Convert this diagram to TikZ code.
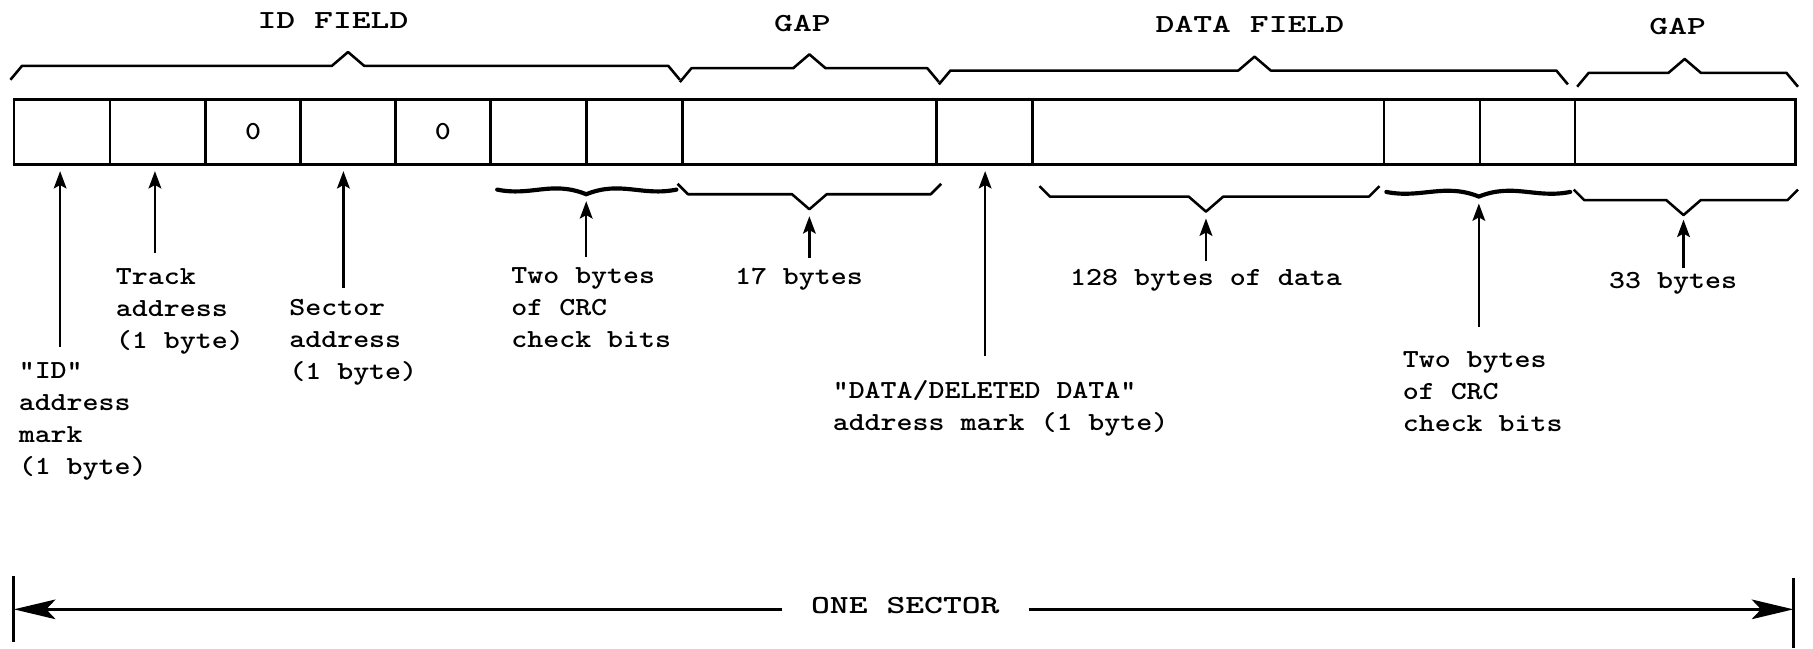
\documentclass[tikz,border=0pt]{standalone}
\usepackage{fontspec}
\usetikzlibrary{arrows.meta}
\tikzset{
  cellline/.style={line width=2.3pt},
  brace/.style={line width=2.2pt, line join=round},
  curly/.style={line width=3.6pt, line cap=round},
  upar/.style={line width=2.2pt, -{Stealth[length=15pt,width=11pt,inset=3pt]}},
  bigar/.style={line width=2.2pt, -{Stealth[length=36pt,width=17pt,inset=8pt]}},
  lbl/.style={font=\ttfamily\bfseries\fontsize{22.5}{27.6}\selectfont, inner sep=0pt, align=left, xscale=1.17},
  head/.style={font=\ttfamily\bfseries\fontsize{22.5}{28}\selectfont, inner sep=0pt, xscale=1.38},
}
% brace above the box: left, right, middle, line y
\newcommand{\topbrace}[4]{\draw[brace] (#1,#4+12) -- (#1+10,#4) -- (#3-14,#4) -- (#3,#4-12) -- (#3+14,#4) -- (#2-10,#4) -- (#2,#4+12);}
% brace below the box
\newcommand{\lowbrace}[4]{\draw[brace] (#1,#4-9) -- (#1+9,#4) -- (#3-15,#4) -- (#3,#4+13) -- (#3+15,#4) -- (#2-9,#4) -- (#2,#4-9);}
% curly brace below the CRC bytes
\newcommand{\crcbrace}[4]{\draw[curly] (#1,#4) .. controls (#1+30,#4+6) and (#3-30,#4-8) .. (#3,#4+4) .. controls (#3+30,#4-8) and (#2-30,#4+6) .. (#2,#4);}
\begin{document}
\begin{tikzpicture}[x=1pt,y=-1pt]
  \useasboundingbox (0,0) rectangle (1568,561);

  % field names
  \node [head, anchor=base] (hid) at (288,25) {ID FIELD};
  \node [head, anchor=base] (hgapa) at (694,27) {GAP};
  \node [head, anchor=base] (hdat) at (1081,28) {DATA FIELD};
  \node [head, anchor=base] (hgapb) at (1451,30) {GAP};

  \topbrace{9}{588}{301}{57}
  \topbrace{588}{812}{700}{59}
  \topbrace{812}{1356}{1085}{61}
  \topbrace{1364}{1555}{1457}{63}

  % the sector
  \draw[cellline] (12,86) rectangle (1553,142);
  \foreach \x in {95,178,260,342,424,507,590,810,893,1197,1280,1362}
    \draw[cellline] (\x,86) -- (\x,142);
  \node [lbl] (za) at (219,114) {0};
  \node [lbl] (zb) at (383,114) {0};

  \crcbrace{430}{585}{507}{164}
  \lowbrace{586}{814}{700}{168}
  \lowbrace{899}{1193}{1043}{170}
  \crcbrace{1199}{1358}{1279}{166}
  \lowbrace{1361}{1555}{1456}{173}

  % arrow tips
  \coordinate (idm) at (52,148);
  \coordinate (trk) at (134,148);
  \coordinate (sec) at (297,148);
  \coordinate (crca) at (507,174);
  \coordinate (gapa) at (700,187);
  \coordinate (dam) at (852,148);
  \coordinate (dat) at (1043,189);
  \coordinate (crcb) at (1279,176);
  \coordinate (gapb) at (1456,190);

  % labels
  \node [lbl, anchor=north west] (idl) at (16,313) {"ID"\\address\\mark\\(1 byte)};
  \node [lbl, anchor=north west] (trl) at (100,232) {Track\\address\\(1 byte)};
  \node [lbl, anchor=north west] (sel) at (250,259) {Sector\\address\\(1 byte)};
  \node [lbl, anchor=north west] (crcla) at (442,231) {Two bytes\\of CRC\\check bits};
  \node [lbl, anchor=north] (gapla) at (691,232) {17 bytes};
  \node [lbl, anchor=north west] (daml) at (720,329) {"DATA/DELETED DATA"\\address mark (1 byte)};
  \node [lbl, anchor=north] (datl) at (1043,233) {128 bytes of data};
  \node [lbl, anchor=north west] (crclb) at (1213,304) {Two bytes\\of CRC\\check bits};
  \node [lbl, anchor=north] (gaplb) at (1447,235) {33 bytes};

  \foreach \l/\t/\s in {idl/idm/13, trl/trk/13, sel/sec/10, crcla/crca/9, gapla/gapa/9,
      daml/dam/21, datl/dat/7, crclb/crcb/21, gaplb/gapb/3}
    \draw[upar, shorten <=\s pt] (\l.north -| \t) -- (\t);

  % one sector
  \node [head, inner xsep=18pt] (one) at (783,524) {ONE SECTOR};
  \coordinate (lbar) at (12,527);
  \coordinate (rbar) at (1551,527);
  \draw[line width=2.6pt] (12,498) -- (12,555);
  \draw[line width=2.6pt] (1551,500) -- (1551,560);
  \draw[bigar] (one.west |- lbar) -- (lbar);
  \draw[bigar] (one.east |- rbar) -- (rbar);
\end{tikzpicture}
\end{document}
